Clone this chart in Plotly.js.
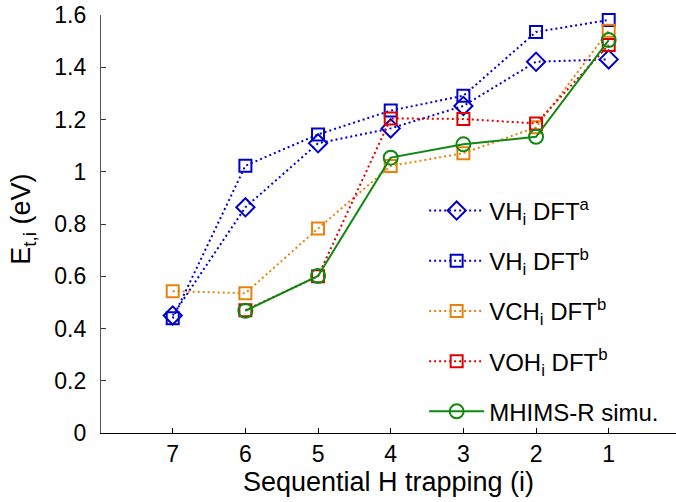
<!DOCTYPE html>
<html><head><meta charset="utf-8">
<script src="https://cdn.plot.ly/plotly-3.0.1.min.js"></script>
<style>html,body{margin:0;padding:0;background:#fff;}</style>
</head><body>
<div id="chart" style="width:676px;height:502px;"></div>
<script>
const steps = [7, 6, 5, 4, 3, 2, 1];
const stepsNo7 = [6, 5, 4, 3, 2, 1];
const vhA = [0.45, 0.864, 1.109, 1.166, 1.252, 1.421, 1.430];
const vhB = [0.439, 1.023, 1.143, 1.234, 1.291, 1.535, 1.581];
const vchB = [0.543, 0.535, 0.783, 1.022, 1.071, 1.17, 1.54];
const vohB = [0.47, 0.60, 1.204, 1.202, 1.185, 1.485];
const mhims = [0.468, 0.601, 1.054, 1.105, 1.134, 1.504];
const names = ['VH<sub>i</sub> DFT<sup>a</sup>', 'VH<sub>i</sub> DFT<sup>b</sup>', 'VCH<sub>i</sub> DFT<sup>b</sup>', 'VOH<sub>i</sub> DFT<sup>b</sup>', 'MHIMS-R simu.'];
const tickVals = [7, 6, 5, 4, 3, 2, 1];
const yTicks = [0, 0.2, 0.4, 0.6, 0.8, 1, 1.2, 1.4, 1.6];
const yTickText = ['0', '0.2', '0.4', '0.6', '0.8', '1', '1.2', '1.4', '1.6'];
const yTitle = 'E<sub>t,i</sub> (eV)';
const xTitle = 'Sequential H trapping (i)';

function tr(x, y, name, color, symbol, size, dash, g) {
  return {x: x, y: y, name: name, type: 'scatter', mode: 'lines+markers', cliponaxis: false,
    legendgroup: g,
    line: {color: color, width: 2, dash: dash},
    marker: {symbol: symbol, size: size, color: color, line: {color: color, width: 2}}};
}
const dot = '2px,3px';
const data = [
  tr(steps, vhA, names[0], '#0000cc', 'diamond-open', 14, dot, 'a'),
  tr(steps, vhB, names[1], '#0000cc', 'square-open', 12, dot, 'b'),
  tr(steps, vchB, names[2], '#e8820c', 'square-open', 12, dot, 'c'),
  tr(stepsNo7, vohB, names[3], '#e00000', 'square-open', 12, dot, 'd'),
  tr(stepsNo7, mhims, names[4], '#118811', 'circle-open', 14, 'solid', 'e')
];
const layout = {
  width: 676, height: 502,
  margin: {l: 101, r: 0, t: 15, b: 69},
  paper_bgcolor: '#fff', plot_bgcolor: '#fff',
  font: {family: 'Liberation Sans, Arial, sans-serif', color: '#000', size: 22},
  showlegend: true,
  legend: {x: 0.562, y: 0.585, xanchor: 'left', yanchor: 'top', bgcolor: 'rgba(0,0,0,0)',
    font: {size: 24}, tracegroupgap: 16, itemwidth: 55, traceorder: 'grouped'},
  xaxis: {range: [7.987, 0.074], tickvals: tickVals, ticktext: tickVals.map(String),
    showgrid: false, zeroline: false, showline: true, linecolor: '#000', linewidth: 1.2,
    ticks: 'inside', ticklen: 5, tickcolor: '#000', tickfont: {size: 23},
    title: {text: xTitle, font: {size: 27}, standoff: 4}},
  yaxis: {range: [0, 1.6], tickvals: yTicks, ticktext: yTickText,
    showgrid: false, zeroline: false, showline: true, linecolor: '#555', linewidth: 1.2,
    ticks: 'inside', ticklen: 5, tickcolor: '#333', tickfont: {size: 23}, ticklabelstandoff: 9},
  annotations: [{text: yTitle, xref: 'paper', yref: 'paper', x: 0, y: 0.51, xshift: -78,
    xanchor: 'center', yanchor: 'middle', textangle: -90, showarrow: false,
    font: {size: 27, color: '#000'}}]
};
Plotly.newPlot('chart', data, layout, {displayModeBar: false, staticPlot: true});
</script>
</body></html>
